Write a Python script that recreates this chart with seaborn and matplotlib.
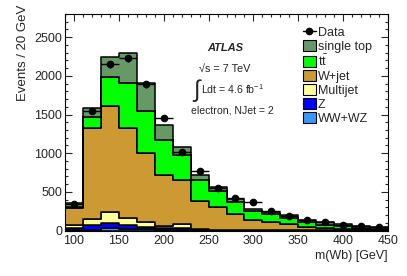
import numpy as np
import pandas as pd
import matplotlib
matplotlib.use('Agg')
import matplotlib.pyplot as plt
from matplotlib.patches import Patch
from matplotlib.lines import Line2D
from matplotlib.ticker import MultipleLocator
import seaborn as sns

# bins of 20 GeV from 90 to 450
edges = list(range(90, 451, 20))
centers = [(a + b) / 2 for a, b in zip(edges[:-1], edges[1:])]

# events per bin
ww_wz = [8, 10, 28, 15, 15, 5, 5, 3, 2, 1, 1, 1, 1, 0, 0, 0, 0, 0]
z_jets = [22, 55, 72, 56, 34, 23, 23, 5, 3, 3, 2, 1, 1, 1, 1, 1, 1, 0]
multijet = [45, 85, 135, 87, 65, 34, 56, 7, 5, 4, 3, 3, 2, 2, 1, 1, 0, 1]
w_jet = [210, 1172, 1379, 1172, 885, 656, 564, 371, 298, 205, 130, 101, 81, 47, 36, 21, 14, 9]
ttbar = [20, 150, 374, 572, 551, 453, 329, 267, 203, 160, 116, 107, 73, 56, 38, 32, 20, 10]
single_top = [55, 117, 257, 388, 354, 189, 103, 65, 48, 34, 26, 30, 37, 34, 32, 29, 27, 29]
data = [345, 1546, 2152, 2225, 1891, 1459, 1015, 770, 554, 416, 369, 254, 190, 132, 106, 73, 58, 49]

procs = ['single top', 'ttbar', 'W+jet', 'Multijet', 'Z', 'WW+WZ']
labels = ['single top', r'$\mathrm{t\bar{t}}$', 'W+jet', 'Multijet', 'Z', 'WW+WZ']
colors = {'single top': '#669966', 'ttbar': '#00ff00', 'W+jet': '#cc9933',
          'Multijet': '#ffff99', 'Z': '#0000ff', 'WW+WZ': '#3399ff'}
values = {'single top': single_top, 'ttbar': ttbar, 'W+jet': w_jet,
          'Multijet': multijet, 'Z': z_jets, 'WW+WZ': ww_wz}

rows = []
for p in procs:
    for c, v in zip(centers, values[p]):
        rows.append((c, v, p))
df = pd.DataFrame(rows, columns=['m', 'n', 'proc'])

sns.set_style('ticks')
plt.rcParams['font.family'] = ['Liberation Sans', 'DejaVu Sans']
plt.rcParams['mathtext.fontset'] = 'custom'
plt.rcParams['mathtext.rm'] = 'Liberation Sans'
plt.rcParams['mathtext.it'] = 'Liberation Sans:italic'

fig = plt.figure(figsize=(4.07, 2.76), dpi=100)
ax = fig.add_axes([65/407, 1 - 230.5/276, 323/407, 216.5/276])

sns.histplot(df, x='m', weights='n', hue='proc', hue_order=procs, multiple='stack',
             bins=edges, element='step', palette=colors, edgecolor='black',
             linewidth=1.1, alpha=1, legend=False, ax=ax)

ax.errorbar(centers, data, xerr=10, yerr=np.sqrt(data), fmt='o', color='black',
            ms=4.5, lw=1, capsize=0, zorder=5)

ax.set_xlim(90, 450)
ax.set_ylim(0, 2800)
ax.xaxis.set_major_locator(MultipleLocator(50))
ax.xaxis.set_minor_locator(MultipleLocator(10))
ax.yaxis.set_major_locator(MultipleLocator(500))
ax.yaxis.set_minor_locator(MultipleLocator(100))
ax.tick_params(which='both', direction='in', top=True, right=True, width=0.8, labelsize=9)
ax.tick_params(which='major', length=5)
ax.tick_params(which='minor', length=2.5)
ax.tick_params(axis='x', pad=3)
ax.tick_params(axis='y', pad=2)
for s in ax.spines.values():
    s.set_linewidth(0.8)
    s.set_color('black')

ax.set_xlabel('m(Wb) [GeV]', fontsize=9, loc='right')
ax.xaxis.set_label_coords(1.0, -0.09)
ax.set_ylabel('Events / 20 GeV', fontsize=9.5, loc='top')
ax.yaxis.set_label_coords(-0.112, 1.042)

# ATLAS labels
ax.text(269, 2365, 'ATLAS', fontsize=8, fontweight='bold', fontstyle='italic', ha='center', va='center')
ax.text(268, 2090, '√s = 7 TeV', fontsize=7.8, ha='center', va='center')
ax.text(236, 1810, '∫', fontsize=17, ha='center', va='center')
ax.text(242, 1830, 'Ldt = 4.6 fb$^{-1}$', fontsize=7.6, ha='left', va='center')
ax.text(276, 1546, 'electron, NJet = 2', fontsize=7.6, ha='center', va='center')

handles = [Line2D([0], [0], color='black', marker='o', ms=4.5, lw=1)]
handles += [Patch(facecolor=colors[p], edgecolor='black', linewidth=0.8) for p in procs]
ax.legend(handles, ['Data'] + labels, loc='upper left', bbox_to_anchor=(303/407, 1 - 26/276),
          bbox_transform=fig.transFigure, frameon=False, fontsize=9, labelspacing=0.08,
          handlelength=1.0, handleheight=1.0, handletextpad=0.2, borderpad=0, borderaxespad=0)

fig.savefig('out.png', dpi=100)
